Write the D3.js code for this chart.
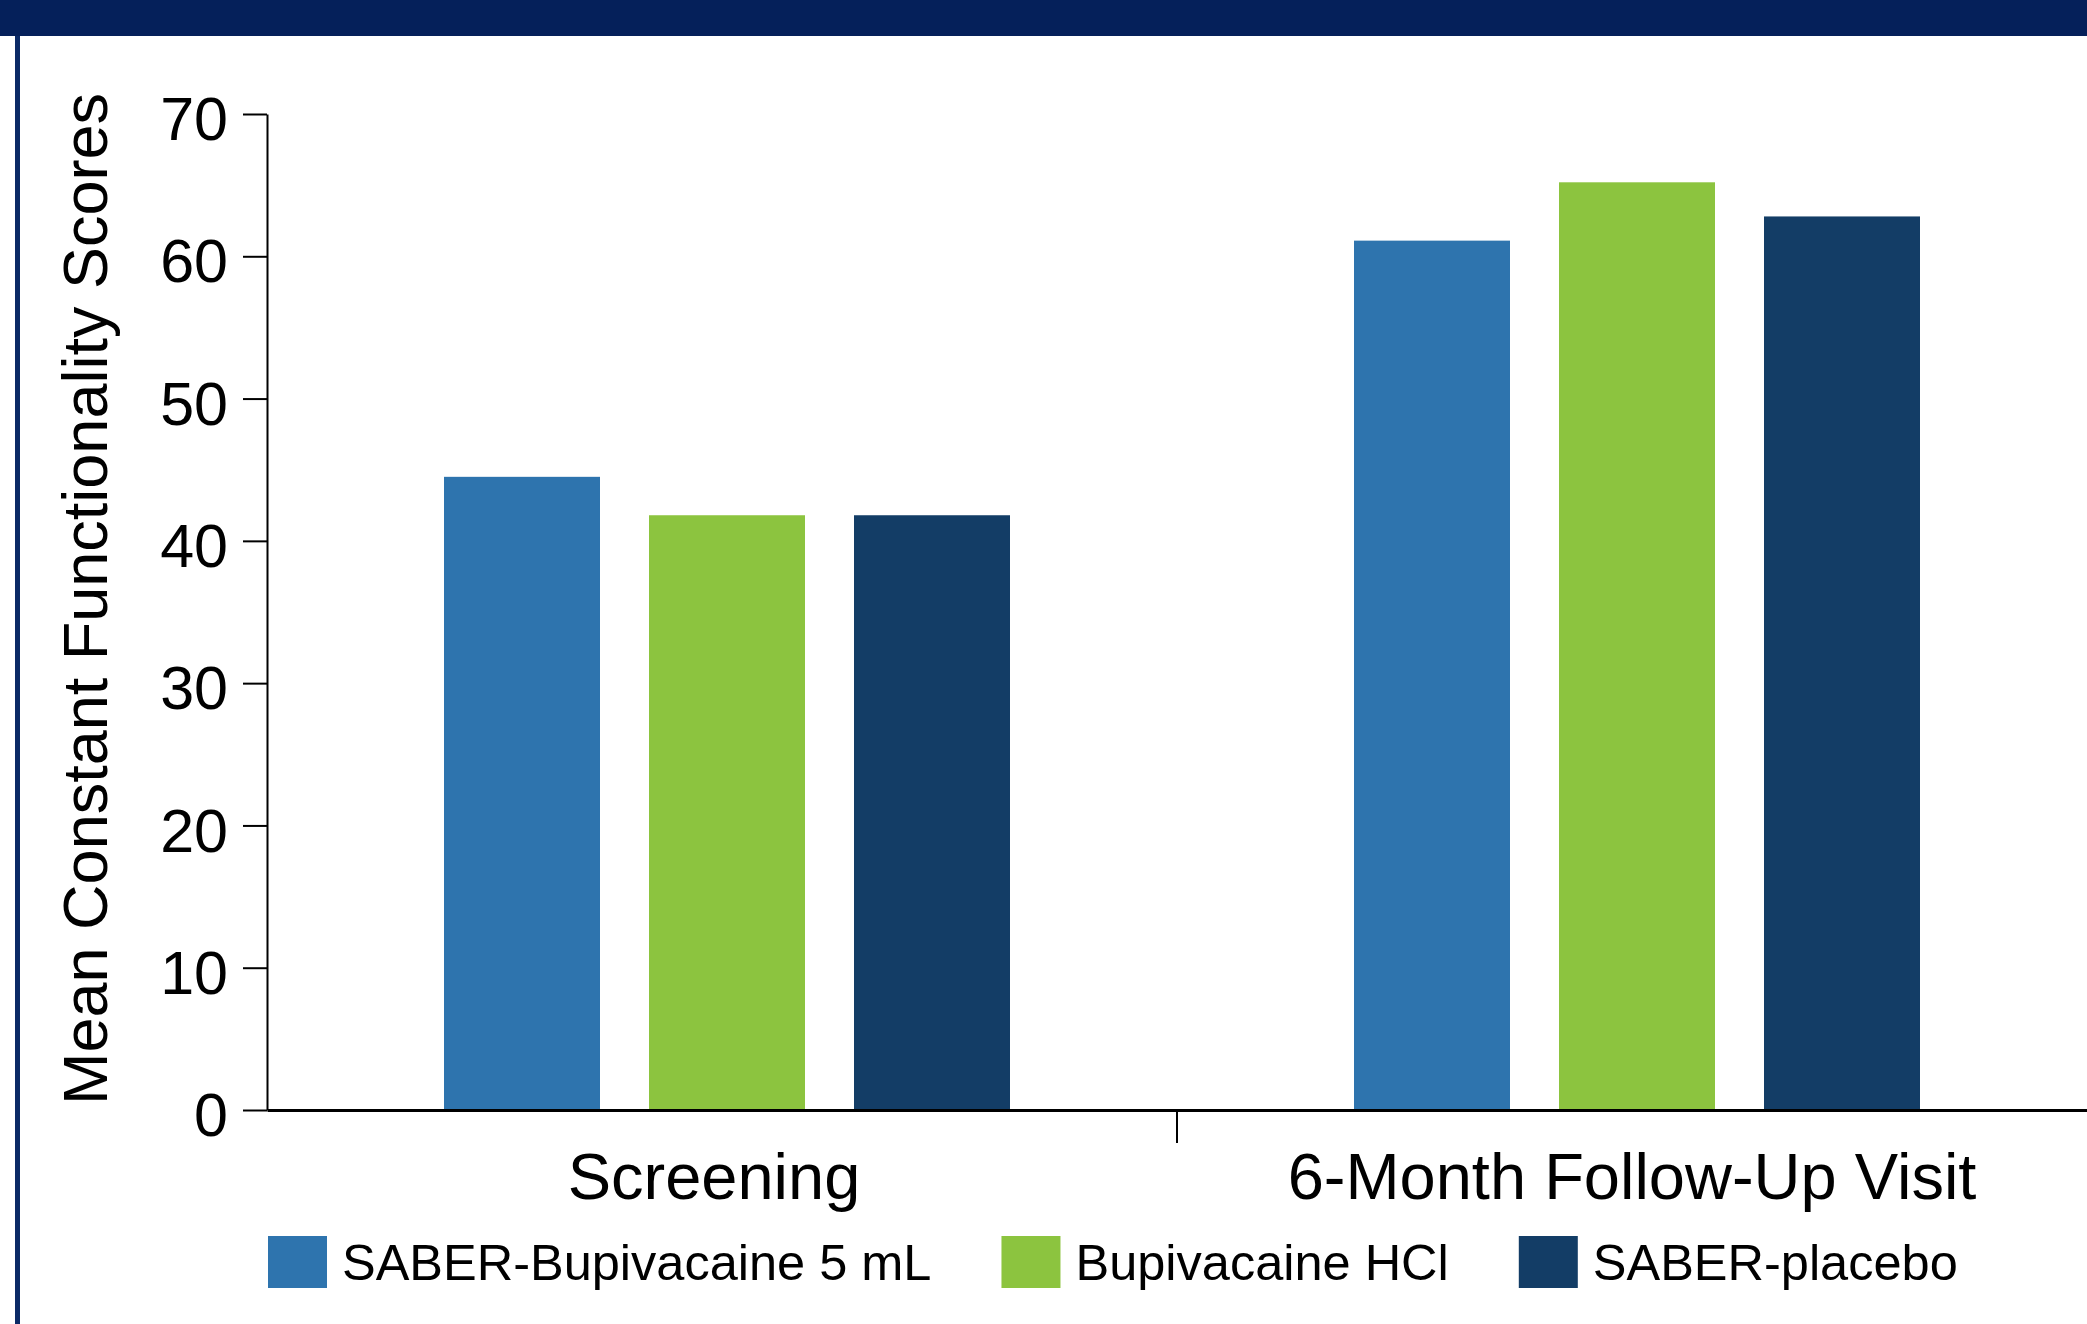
<!DOCTYPE html>
<html>
<head>
<meta charset="utf-8">
<script src="https://cdn.jsdelivr.net/npm/d3@7"></script>
<style>
  html, body { margin: 0; padding: 0; background: #ffffff; }
  svg { display: block; }
  text { font-family: "Liberation Sans", Arial, sans-serif; fill: #000; }
</style>
</head>
<body>
<svg id="chart" width="2087" height="1324"></svg>
<script>
// ---- data ----
const categories = ["Screening", "6-Month Follow-Up Visit"];
const seriesNames = ["SABER-Bupivacaine 5 mL", "Bupivacaine HCl", "SABER-placebo"];
const saberBupivacaine = [44.5, 61.1];
const bupivacaineHCl = [41.8, 65.2];
const saberPlacebo = [41.8, 62.8];
const yTicks = [0, 10, 20, 30, 40, 50, 60, 70];
const yTitle = "Mean Constant Functionality Scores";

const seriesValues = [saberBupivacaine, bupivacaineHCl, saberPlacebo];
const colors = ["#2E74AE", "#8CC43F", "#133D66"];

const svg = d3.select("#chart");
const W = 2087, H = 1324;

// banner and left border
svg.append("rect").attr("x", 0).attr("y", 0).attr("width", W).attr("height", 36).attr("fill", "#05205A");
svg.append("rect").attr("x", 15).attr("y", 36).attr("width", 5).attr("height", H - 36).attr("fill", "#0B2A66");

const plotLeft = 267, plotRight = 2087, plotTop = 114, plotBottom = 1110;

const x0 = d3.scaleBand().domain(categories).range([plotLeft, plotRight]).paddingInner(0).paddingOuter(0);
const groupW = 566;
const x1 = d3.scaleBand().domain(seriesNames).range([0, groupW]).paddingInner(49 / 205).paddingOuter(0);
const y = d3.scaleLinear().domain([0, 70]).range([plotBottom, plotTop]);

// bars
const rows = [];
categories.forEach((c, ci) => {
  seriesNames.forEach((s, si) => {
    rows.push({ cat: c, series: s, value: seriesValues[si][ci], color: colors[si] });
  });
});
svg.append("g").selectAll("rect").data(rows).join("rect")
  .attr("x", d => x0(d.cat) + x0.bandwidth() / 2 - groupW / 2 + 5 + x1(d.series))
  .attr("y", d => y(d.value))
  .attr("width", x1.bandwidth())
  .attr("height", d => y(0) - y(d.value))
  .attr("fill", d => d.color);

// y axis
const yAxis = svg.append("g")
  .attr("transform", `translate(${plotLeft},0)`)
  .call(d3.axisLeft(y).tickValues(yTicks).tickSize(24).tickPadding(15).tickSizeOuter(0));
yAxis.select(".domain").attr("stroke", "#000").attr("stroke-width", 2);
yAxis.selectAll(".tick line").attr("stroke", "#000").attr("stroke-width", 2);
yAxis.selectAll(".tick text")
  .attr("font-size", 61)
  .attr("font-family", "Liberation Sans, Arial, sans-serif")
  .attr("fill", "#000")
  .attr("dy", "0.42em");

// x axis
const xAxis = svg.append("g")
  .attr("transform", `translate(0,${plotBottom})`)
  .call(d3.axisBottom(x0).tickSize(0).tickPadding(43).tickSizeOuter(0));
xAxis.select(".domain").attr("stroke", "#000").attr("stroke-width", 3);
xAxis.selectAll(".tick text")
  .attr("font-size", 65)
  .attr("font-family", "Liberation Sans, Arial, sans-serif")
  .attr("fill", "#000")
  .attr("dx", (d, i) => i === 0 ? -8 : 0);
// category boundary ticks
svg.append("g").selectAll("line").data(categories.slice(1)).join("line")
  .attr("x1", d => x0(d)).attr("x2", d => x0(d))
  .attr("y1", plotBottom).attr("y2", plotBottom + 33)
  .attr("stroke", "#000").attr("stroke-width", 2);

// y title
svg.append("text")
  .attr("transform", `translate(107,599) rotate(-90)`)
  .attr("text-anchor", "middle")
  .attr("font-size", 63)
  .text(yTitle);

// legend
const legend = svg.append("g").attr("transform", "translate(268,1236)");
let cursor = 0;
seriesNames.forEach((s, i) => {
  const g = legend.append("g").attr("transform", `translate(${cursor},0)`);
  g.append("rect").attr("width", 59).attr("height", 52).attr("fill", colors[i]);
  const t = g.append("text").attr("x", 74).attr("y", 44).attr("font-size", 50.5).text(s);
  cursor += 74 + t.node().getComputedTextLength() + 70;
});
</script>
</body>
</html>
